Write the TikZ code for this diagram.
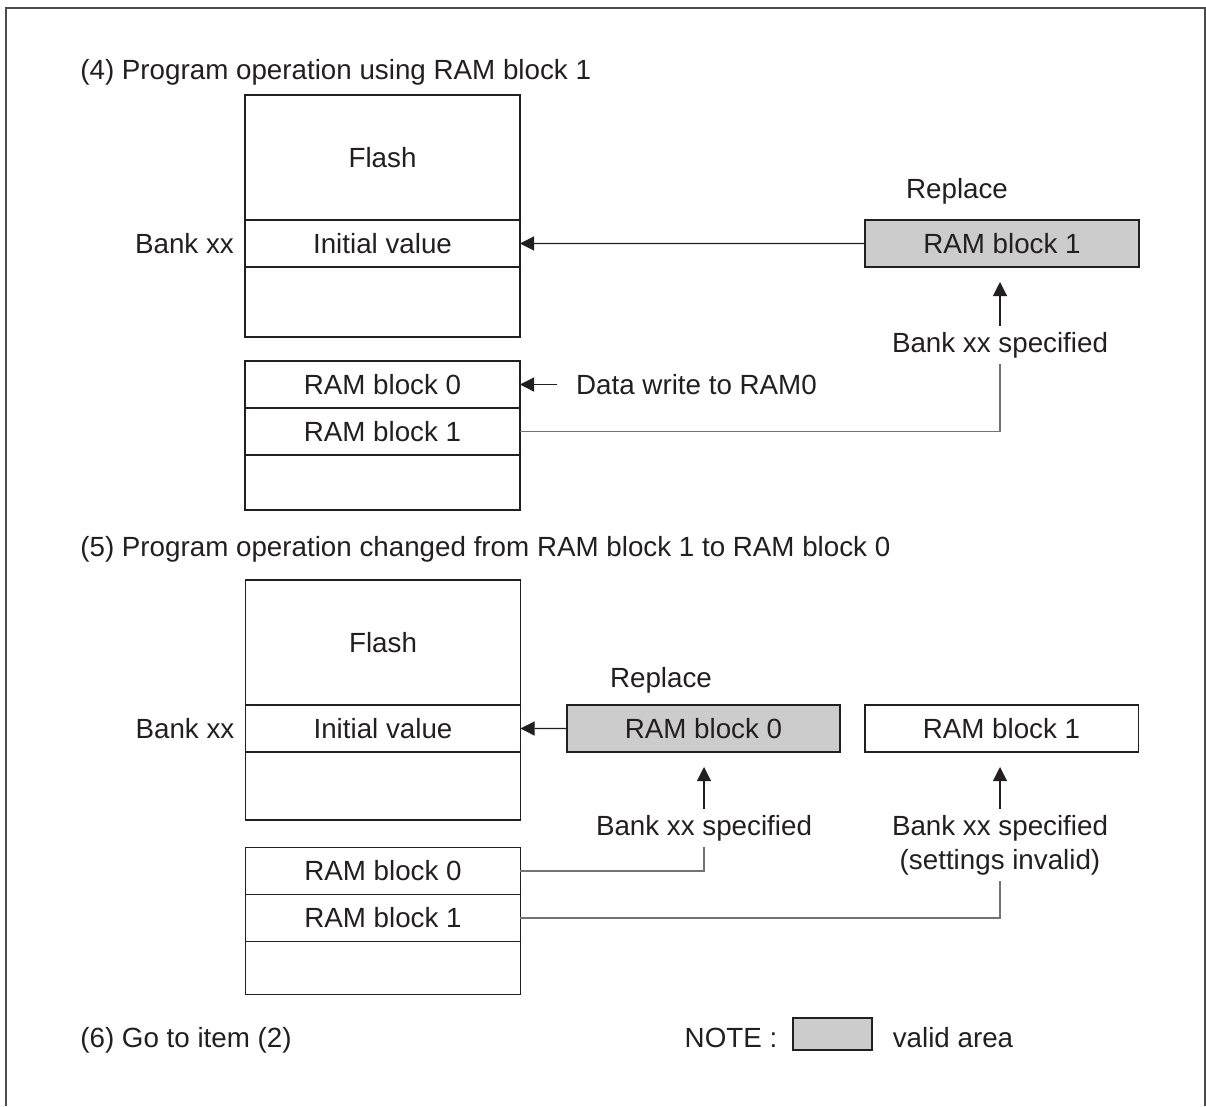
\documentclass[tikz,border=0pt]{standalone}
\usepackage{fontspec}
\setmainfont{Liberation Sans}
\usetikzlibrary{positioning,arrows.meta}

\definecolor{ink}{RGB}{35,31,32}
\definecolor{validgray}{RGB}{204,204,204}

\tikzset{
    mem/.style={draw=ink, line width=1.1pt, minimum width=5.5cm, inner sep=0pt, outer sep=0pt},
    flashpart/.style={mem, minimum height=2.5cm},
    rowpart/.style={mem, minimum height=0.94cm},
    copybox/.style={mem, minimum width=5.48cm, minimum height=0.94cm},
    fwd/.style={-{Triangle[length=8pt,width=8pt]}, draw=ink, line width=0.6pt},
    link/.style={draw=black!55, line width=0.7pt},
    frame/.style={draw=black!70, line width=0.9pt}
}

\begin{document}
\begin{tikzpicture}[x=0.02cm, y=-0.02cm, text=ink, font=\fontsize{15.8}{19}\selectfont]

\useasboundingbox (0,0) rectangle (1206,1106);
\draw[frame] (6,1106) |- (1205,8) -- (1205,1106);

% (4)
\node[anchor=west, inner sep=0pt] (titleA) at (80,72) {(4) Program operation using RAM block 1};

\node[flashpart] (flashA) at (382.5,157.5) {Flash};
\node[rowpart, below=0pt of flashA] (initA) {Initial value};
\node[mem, minimum height=1.4cm, below=0pt of initA] (spareA) {};
\node[left=0.1cm of initA] (bankA) {Bank xx};

\node[rowpart] (ramA0) at (382.5,384.5) {RAM block 0};
\node[rowpart, below=0pt of ramA0] (ramA1) {RAM block 1};
\node[mem, minimum height=1.1cm, below=0pt of ramA1] (ramA2) {};

\node (replA) at (957,191) {Replace};
\node[copybox, fill=validgray] (repA) at (1002,243.5) {RAM block 1};
\node (specA) at (1000,345) {Bank xx specified};
\node[right=1.0cm of ramA0] (writeA) {Data write to RAM0};

\draw[fwd] (repA.west) -- (initA.east);
\draw[fwd, shorten >=0.3cm] (specA.north) -- (specA.north |- repA.south);
\draw[fwd, shorten <=0.25cm] (writeA.west) -- (ramA0.east);
\draw[link] (ramA1.east) -| (specA.south);

% (5)
\node[anchor=west, inner sep=0pt] (titleB) at (80,549) {(5) Program operation changed from RAM block 1 to RAM block 0};

\node[flashpart] (flashB) at (383,642.5) {Flash};
\node[rowpart, below=0pt of flashB] (initB) {Initial value};
\node[mem, minimum height=1.36cm, below=0pt of initB] (spareB) {};
\node[left=0.1cm of initB] (bankB) {Bank xx};

\node[rowpart] (ramB0) at (383,871) {RAM block 0};
\node[rowpart, below=0pt of ramB0] (ramB1) {RAM block 1};
\node[mem, minimum height=1.06cm, below=0pt of ramB1] (ramB2) {};

\node (replB) at (661,680) {Replace};
\node[copybox, minimum width=5.46cm, fill=validgray] (repB0) at (703.5,728.5) {RAM block 0};
\node[copybox] (repB1) at (1001.5,728.5) {RAM block 1};
\node (specB0) at (704,828) {Bank xx specified};
\node[align=center, font=\fontsize{15.8}{19.3}\selectfont] (specB1) at (1000,845) {Bank xx specified\\(settings invalid)};

\draw[fwd] (repB0.west) -- (initB.east);
\draw[fwd, shorten >=0.3cm] (specB0.north) -- (specB0.north |- repB0.south);
\draw[fwd, shorten >=0.3cm] (specB1.north) -- (specB1.north |- repB1.south);
\draw[link] (ramB0.east) -| (specB0.south);
\draw[link] (ramB1.east) -| (specB1.south);

% (6) and note
\node[anchor=west, inner sep=0pt] (titleC) at (80,1040) {(6) Go to item (2)};
\node (note) at (731,1038) {NOTE :};
\node[mem, fill=validgray, minimum width=1.58cm, minimum height=0.64cm] (notebox) at (832.5,1034) {};
\node (valid) at (953,1038) {valid area};

\end{tikzpicture}
\end{document}
